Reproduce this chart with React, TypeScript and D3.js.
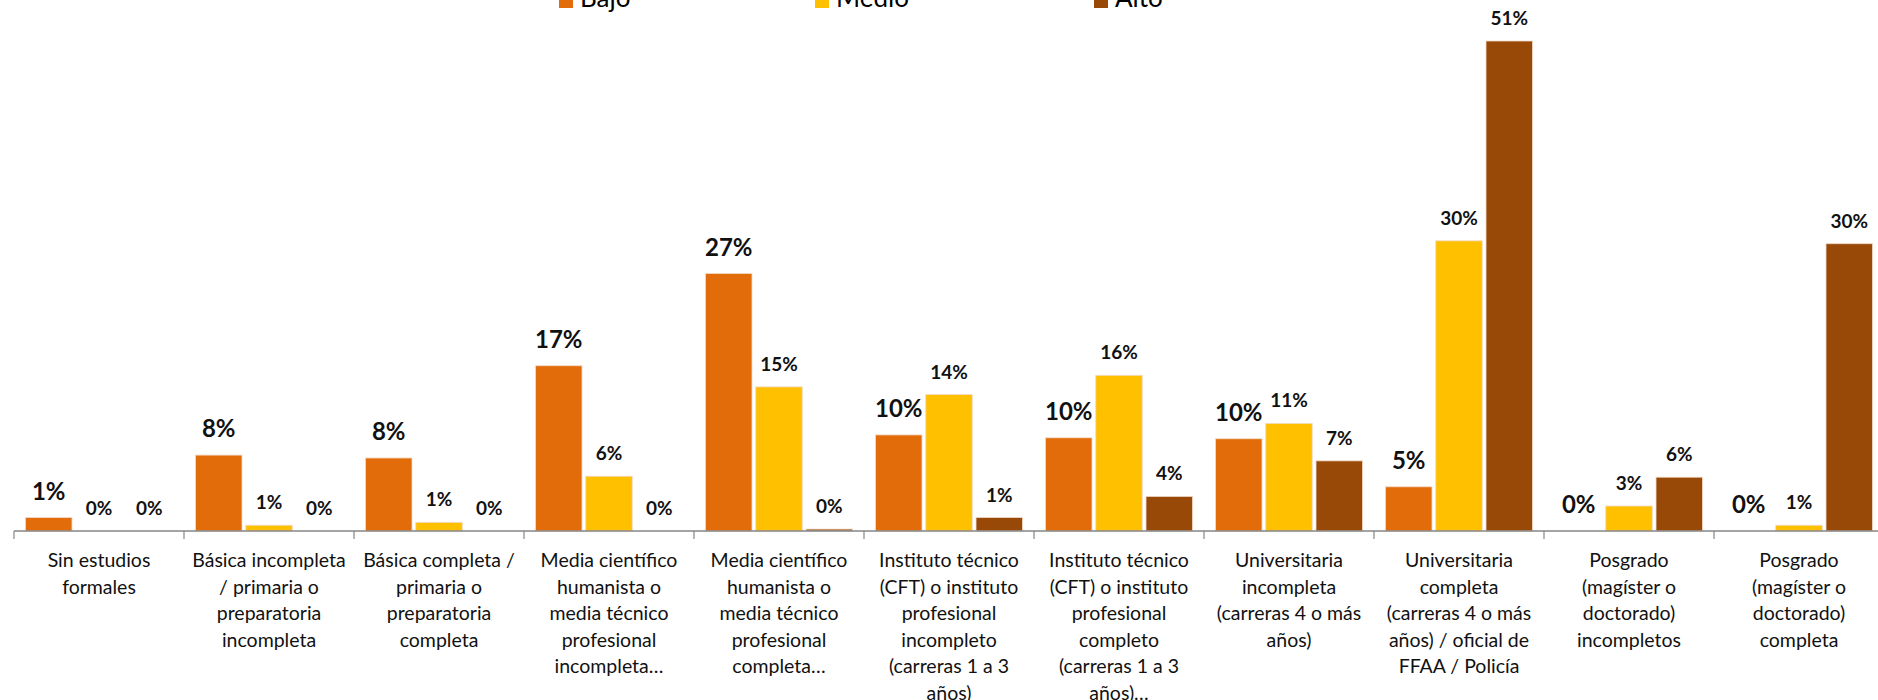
import React from "react";
import * as d3 from "d3";

const categories: string[] = [
  "Sin estudios\nformales",
  "Básica incompleta\n/ primaria o\npreparatoria\nincompleta",
  "Básica completa /\nprimaria o\npreparatoria\ncompleta",
  "Media científico\nhumanista o\nmedia técnico\nprofesional\nincompleta…",
  "Media científico\nhumanista o\nmedia técnico\nprofesional\ncompleta…",
  "Instituto técnico\n(CFT) o instituto\nprofesional\nincompleto\n(carreras 1 a 3\naños)",
  "Instituto técnico\n(CFT) o instituto\nprofesional\ncompleto\n(carreras 1 a 3\naños)…",
  "Universitaria\nincompleta\n(carreras 4 o más\naños)",
  "Universitaria\ncompleta\n(carreras 4 o más\naños) / oficial de\nFFAA / Policía",
  "Posgrado\n(magíster o\ndoctorado)\nincompletos",
  "Posgrado\n(magíster o\ndoctorado)\ncompleta",
];

const seriesNames: string[] = ["Bajo", "Medio", "Alto"];

const bajo: number[] = [1.4, 7.9, 7.6, 17.2, 26.8, 10.0, 9.7, 9.6, 4.6, 0, 0];
const medio: number[] = [0, 0.6, 0.9, 5.7, 15.0, 14.2, 16.2, 11.2, 30.2, 2.6, 0.6];
const alto: number[] = [0, 0, 0, 0, 0.2, 1.4, 3.6, 7.3, 51, 5.6, 29.9];

const colors: string[] = ["#E36C0A", "#FFC000", "#984807"];

export default function App() {
  const W = 1878;
  const H = 700;
  const baseY = 531;
  const left = 14;
  const step = 170;
  const values = [bajo, medio, alto];

  const x0 = d3
    .scaleBand<string>()
    .domain(categories)
    .range([left, left + step * categories.length])
    .padding(0);
  const x1 = d3
    .scaleBand<string>()
    .domain(seriesNames)
    .range([11.5, step - 11.5])
    .paddingInner(0.075);
  const y = d3.scaleLinear().domain([0, 51]).range([baseY, 41]);

  const font = "Lato, 'Open Sans', sans-serif";
  const legendX = [559, 815, 1094];

  return (
    <svg
      width={W}
      height={H}
      style={{ position: "fixed", left: 0, top: 0, background: "#fff" }}
    >
      <rect x={0} y={0} width={W} height={H} fill="#fff" />
      {/* legend */}
      {seriesNames.map((s, i) => (
        <g key={s} transform={`translate(${legendX[i]},0)`}>
          <rect x={0} y={-6} width={14} height={14} fill={colors[i]} />
          <text x={21} y={7} fontFamily={font} fontSize={26} fill="#000">
            {s}
          </text>
        </g>
      ))}
      {/* bars */}
      {categories.map((c, ci) => (
        <g key={c} transform={`translate(${x0(c)},0)`}>
          {seriesNames.map((s, si) => {
            const v = values[si][ci];
            const bx = x1(s)!;
            const bw = x1.bandwidth();
            const top = y(v);
            return (
              <g key={s}>
                {v > 0 && (
                  <rect
                    x={bx}
                    y={top}
                    width={bw}
                    height={baseY - top}
                    fill={colors[si]}
                    stroke="#f3d9c6"
                    strokeWidth={0.8}
                  />
                )}
                <text
                  x={bx + bw / 2}
                  y={top - (si === 0 ? 18 : 16)}
                  textAnchor="middle"
                  fontFamily={font}
                  fontWeight="bold"
                  fontSize={si === 0 ? 24 : 19}
                  fill="#111"
                >
                  {`${Math.round(v)}%`}
                </text>
              </g>
            );
          })}
        </g>
      ))}
      {/* axis */}
      <line x1={left} x2={W} y1={baseY} y2={baseY} stroke="#868686" strokeWidth={1.5} />
      {d3.range(categories.length + 1).map((i) => {
        const tx = left + i * step;
        return (
          <line key={i} x1={tx} x2={tx} y1={baseY} y2={baseY + 8} stroke="#868686" strokeWidth={1.2} />
        );
      })}
      {categories.map((c) => {
        const cx = x0(c)! + x0.bandwidth() / 2;
        const lines = c.split("\n");
        return (
          <text
            key={c}
            textAnchor="middle"
            fontFamily={font}
            fontSize={19.5}
            fill="#111"
          >
            {lines.map((l, li) => (
              <tspan key={li} x={cx} y={567 + li * 26.5}>
                {l}
              </tspan>
            ))}
          </text>
        );
      })}
    </svg>
  );
}
